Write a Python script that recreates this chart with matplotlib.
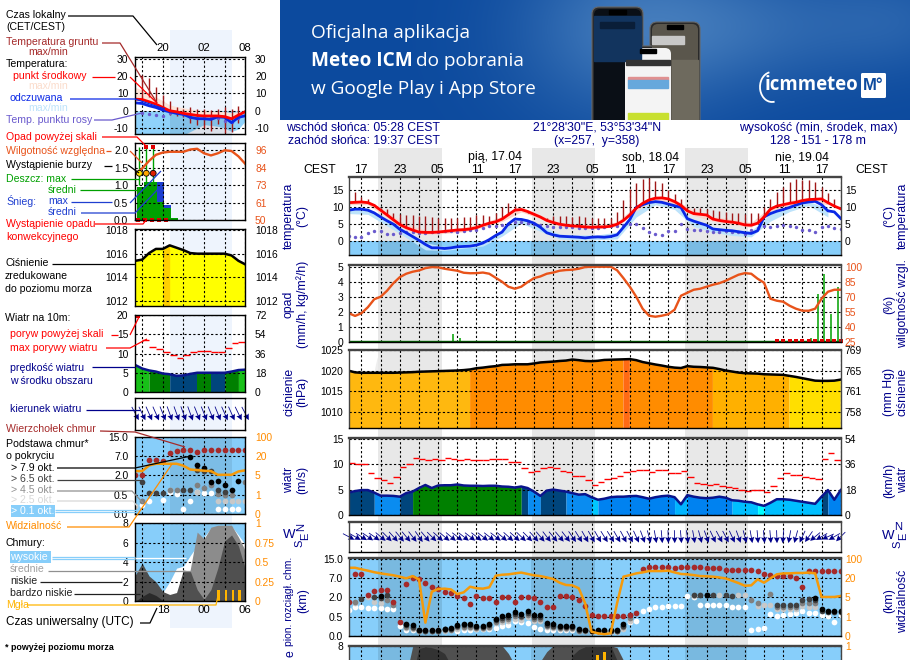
import numpy as np
import matplotlib
matplotlib.use('Agg')
import matplotlib.pyplot as plt
from matplotlib.patches import Rectangle, FancyBboxPatch, Arc

plt.rcParams['font.family'] = ['Liberation Sans', 'DejaVu Sans']
n = np.nan

# ---- main meteogram, one value per hour from 15:00 CEST on Thursday
temp = [11.2,11.3,11.4,11.2,10.4,9.0,7.6,6.2,4.8,3.9,3.2,2.6,2.5,2.5,2.6,2.8,3.0,3.2,3.3,3.5,
        3.9,4.6,5.2,5.6,6.4,7.7,9.0,9.2,8.6,7.8,7.0,6.0,5.4,4.9,4.6,4.4,4.3,4.1,4.0,4.1,
        4.1,4.3,4.9,6.0,7.6,9.6,11.0,12.0,12.5,12.6,12.3,11.5,10.4,8.8,8.0,7.8,7.6,6.4,6.0,5.7,
        5.5,5.2,4.7,4.6,5.2,7.0,9.3,10.2,10.6,11.0,11.3,11.8,12.1,12.2,12.3,11.2,10.2,9.4]
feels = [9.0,9.3,9.3,9.0,8.2,7.0,5.9,4.9,3.4,2.4,1.3,0.2,-1.0,-2.0,-2.0,-2.2,-2.0,-1.7,-1.6,-1.5,
         -1.2,-0.6,0.4,1.6,2.6,5.0,6.4,6.3,5.9,5.2,4.0,2.4,1.8,1.4,1.3,1.2,1.1,0.9,1.1,1.2,
         1.1,1.3,1.8,4.0,6.3,9.8,10.6,11.2,11.5,11.3,10.8,10.3,9.8,6.5,5.8,5.2,4.6,3.5,3.3,3.1,
         3.0,2.7,2.4,2.2,3.0,7.0,8.0,8.7,9.2,9.8,10.5,11.1,11.4,11.6,10.6,8.8,8.5,6.6]
dew = [1.5,1.1,1.3,2.3,3.0,2.8,2.1,1.9,2.3,2.6,2.5,2.3,2.3,2.5,2.6,2.8,2.8,2.7,2.9,3.1,
       3.3,3.8,4.3,4.5,4.7,5.1,5.5,5.5,5.3,5.0,4.7,4.3,4.1,4.1,4.0,4.0,3.9,3.9,3.8,3.8,
       4.1,4.3,4.5,4.8,5.1,5.0,3.8,2.5,2.1,1.8,2.8,3.0,5.1,3.6,3.3,3.1,2.8,2.6,2.6,2.8,
       2.6,2.5,2.1,3.1,3.8,4.5,4.1,4.3,4.7,4.5,4.1,3.1,3.3,2.5,4.1,4.5,3.8,3.5]
ground_max = [n,14.3,12.8,12.3,10.8,9.5,9.3,8.3,7.8,7.5,7.5,7.3,7.3,7.1,6.8,6.8,6.8,6.8,7.0,7.0,
              7.5,7.5,7.3,8.3,9.8,11.1,10.3,9.3,8.3,7.8,7.3,6.8,7.3,7.3,7.3,7.1,7.3,7.1,6.8,6.8,
              6.8,6.8,8.5,12.0,15.3,17.0,18.0,18.3,17.6,16.8,14.8,13.8,12.3,9.8,9.6,9.5,9.3,9.1,8.8,8.6,
              8.3,8.1,7.8,8.1,8.3,9.8,12.3,14.3,15.8,17.3,18.1,17.8,17.8,17.1,15.8,14.1,12.3,n]
temp_hi3 = [11.9,11.8,8.4,4.8,3.2,3.4,4.0,5.3,7.2,10.0,7.6,5.4,4.9,4.7,5.6,10.4,13.2,12.2,8.9,7.2,6.3,5.4,10.0,11.8,12.8,11.8]
temp_lo3 = [10.6,10.6,6.9,3.2,1.9,2.2,2.7,4.0,5.7,8.5,6.5,4.2,3.8,3.6,4.2,8.8,11.9,10.8,7.4,5.8,4.8,4.0,8.6,10.4,11.5,10.6]
feels_hi3 = [9.6,9.6,6.4,3.0,-0.5,-1.6,-1.0,-0.2,3.2,6.8,4.6,2.0,1.8,1.8,2.6,9.0,11.8,10.6,6.0,4.0,3.3,3.0,8.0,10.2,11.6,9.4]
feels_lo3 = [8.0,7.8,4.4,1.0,-2.6,-2.8,-2.1,-1.5,1.4,5.2,2.8,0.6,0.3,0.4,0.6,7.0,10.6,9.2,4.2,2.6,1.6,1.2,5.8,8.6,10.4,7.0]

rel_hum = [53.5,50.8,53.5,59.5,67.5,70,76,83.6,89.6,93,95,96.3,98.6,99.7,99.4,98,97,96,94,93.5,
           93.6,94.2,93,89,85,80,78,80,84.6,88.6,90.3,93,94.2,96,96.7,97,98,99.7,100,100,
           100,100,96.5,88.6,80,70,58,51,50,51,52.5,57,71,74,77,78,80,82,83.5,86,
           89,92,93.6,93,88,84,68,66,65,61,58,56,56,58,68,75,77,77]
rain_x = [16.4,17.4,72.4,73.5,74.4,75.5,76.5]
rain_amt = [0.5,0.25,0.28,3.17,4.5,1.83,3.68]
conv_hours = [67,68,69,70,71,72,73,74,75,76,77]

pressure = [1020,1019.6,1019.5,1019.5,1019.5,1019.5,1019.5,1019.5,1019.55,1019.6,1019.65,1019.75,1019.8,1019.85,1019.9,1019.95,1020,1020.05,1020.15,1020.3,
            1020.6,1020.75,1020.95,1021.1,1021.4,1021.45,1021.55,1021.55,1021.55,1021.75,1022,1022.1,1022.2,1022.35,1022.45,1022.7,1022.55,1022.35,1022.3,1022.4,
            1022.6,1022.65,1022.7,1022.75,1022.8,1022.55,1022.1,1021.8,1021.5,1021.25,1020.95,1020.75,1020.65,1021.1,1020.95,1020.9,1020.8,1020.7,1020.4,1020.05,
            1019.8,1019.55,1019.4,1019.35,1019.3,1019.15,1019.1,1019.05,1019.0,1018.75,1018.5,1018.2,1017.9,1017.6,1017.55,1017.55,1017.6,1017.85]
press_from = [0,19,43,44,57,69]
press_to = [19,43,44,57,69,77]
press_col = ['#FFB80F','#FF8C00','#FF6A14','#FF8C00','#FFB000','#FFDF00']

wind = [4.4,4.7,4.9,4.9,4.4,3.8,3.8,3.75,3.6,4.3,4.6,5.3,5.9,5.3,5.8,5.85,5.85,6.0,5.8,5.75,
        5.75,5.7,5.75,5.75,5.6,5.55,5.4,5.6,5.3,4.6,3.75,4.8,5.0,4.8,4.6,4.3,4.0,4.1,3.5,3.0,
        3.2,3.5,3.6,3.6,3.7,3.75,3.5,3.2,3.5,3.7,3.8,3.5,2.1,3.9,3.6,3.4,3.3,3.4,3.6,3.4,
        2.9,2.8,2.6,2.5,2.1,1.8,2.4,3.1,3.1,3.0,2.8,2.6,2.4,2.2,3.6,4.9,3.0,4.9]
gust = [10.2,10,10,8.2,7.2,6.8,6.2,7.5,9.5,10,11.2,11.1,10.9,11,10.9,11.2,11,10.9,11,10.8,
        10.8,10.8,11,11,11,10.5,10.4,9.3,8.4,8.7,9.2,9.5,9.3,8.7,8.5,7.7,7.7,6.8,5.9,6.4,
        7,7.2,7.7,8.4,8.7,8.8,8.8,8.4,8.8,8.8,8.2,8.2,8.6,7.5,6.2,6,5.9,6,5.8,5.6,
        5.3,5,4.7,4.9,4.9,4.5,5.7,7.3,8.2,7.8,7.8,7.5,7.3,7,11,12.2,10.9,10.2]
wind_from = [0,4,8,10,27,28,30,34,38,39,51,53,60,64,65,74,75]
wind_to = [4,8,10,27,28,30,34,38,39,51,53,60,64,65,74,75,77]
wind_col = ['#00457C','#0A8CF0','#00457C','#008000','#00457C','#0A8CF0','#00457C','#0A8CF0','#00C8FF','#0082F0','#00B4FF','#0082F0','#00BFFF','#00FFFF','#00BFFF','#00457C','#0082F0']
wind_dir = [28,30,32,35,35,40,45,48,50,50,52,55,50,45,42,40,40,38,38,38,38,38,38,38,40,42,42,44,45,48,50,52,50,50,52,55,58,60,60,60,
            58,58,60,62,62,65,70,75,80,85,88,88,85,82,80,75,70,65,62,62,65,70,75,80,85,85,85,88,95,100,105,115,125,140,150,155,150,135]

# cloud levels are read in axis steps: 0=0 km, 1=0.5 km, 2=2 km, 3=7 km, 4=15 km
cloud_top = [1.78,3.2,3.2,2.12,2.33,2.38,2.38,1.74,0.74,2.67,3.02,2.95,2.72,2.52,2.43,2.29,2.24,2.07,1.95,1.67,
             2.07,1.97,1.97,1.76,2.03,2.03,1.74,2.03,2.03,1.95,1.76,1.5,1.5,2.05,2.05,2.03,1.84,1.57,1.09,1.03,
             1.05,1.03,1.02,1.02,1.09,1.17,3.48,3.57,3.57,3.57,3.57,3.5,3.57,3.57,3.57,3.57,3.5,3.5,3.5,3.43,
             3.43,3.43,3.43,3.43,3.36,3.2,3.17,3.1,3.1,3.1,3.0,2.52,3.38,3.38,3.38,3.38,3.38,3.38]
base_black = [n,n,n,n,n,2.07,n,n,n,.62,.55,.33,.31,.31,.31,.38,.4,.57,.62,.62,
              .53,.53,.62,.9,1.03,1.07,1.22,1.14,1.29,1.07,1.07,.65,.6,.53,.53,.53,.34,.31,.28,.29,
              .3,.3,.3,.62,n,n,n,n,n,n,n,n,n,n,n,n,2.12,n,n,n,
              n,n,n,n,n,n,n,n,n,n,n,n,n,1.95,1.38,1.31,1.31,1.31]
base_dark = [n,n,1.9,n,2.03,1.95,2.12,n,n,.55,.48,.3,.28,.28,.28,.34,.36,.5,.55,.55,
             .47,.47,.55,.82,.95,.98,1.14,1.05,1.2,.98,.98,.58,.53,.47,.47,.47,.31,.29,.26,.27,
             .27,.27,.27,.52,1.08,n,n,n,n,n,n,n,n,n,2.1,2.12,2.1,2.1,n,2.1,
             2.08,n,n,n,n,n,n,1.6,1.6,1.6,1.6,1.85,1.9,1.85,1.3,1.25,1.25,1.25]
base_mid = [n,1.75,n,n,n,n,1.85,1.6,n,.47,.42,.28,.26,.26,.26,.3,.32,.44,.48,.48,
            .42,.42,.48,.74,.85,.88,1.03,.96,1.08,.88,.88,.5,.46,.41,.41,.41,.28,.27,.24,.25,
            .25,.25,.25,.44,.95,n,n,n,n,n,n,n,n,n,n,n,n,n,n,n,
            n,n,n,1.86,1.69,n,2.15,1.5,1.5,1.5,1.5,1.7,1.7,1.7,n,n,n,n]
base_light = [n,1.7,n,2.0,1.75,1.7,n,n,n,.4,.37,.26,.24,.24,.24,.27,.29,.37,.42,.42,
              .37,.37,.42,.66,.75,.78,.9,.85,.96,.78,.78,.44,.4,.36,.36,.36,.26,.25,.22,.23,
              .23,.23,.23,.38,.8,n,n,n,n,n,n,n,n,n,2.05,n,n,n,2.12,n,
              n,2.12,2.12,n,1.55,1.6,1.6,1.4,1.4,1.4,1.4,1.55,1.5,1.5,n,n,n,n]
base_white = [1.34,1.52,1.52,1.43,1.43,1.43,1.38,1.38,.52,.3,.3,.3,.3,.3,.3,.3,.3,.28,.3,.3,
              .34,.34,.35,.4,.52,.57,.79,.74,.65,.45,.34,.31,.31,.3,.3,.3,.3,.29,.28,.28,
              .28,.28,.28,.4,.7,.79,1.3,1.38,1.48,1.52,1.53,1.53,1.53,2.05,2.0,1.6,1.6,1.6,1.6,1.6,
              1.5,1.5,1.5,.3,.38,.4,1.14,1.03,1.1,1.15,1.2,1.3,1.2,1.2,1.1,1.03,.74,1.08]
visibility = [3.53,3.53,3.45,3.38,3.3,3.24,3.19,3.14,3.07,2.98,3.1,2.93,0.69,2.29,2.43,2.45,2.41,2.17,2.26,2.55,
              2.47,2.45,2.52,3.12,3.17,3.19,3.24,3.28,3.21,3.14,3.1,3.03,2.95,2.76,2.64,2.62,2.47,1.69,.22,.14,
              .09,.14,1.69,3.07,3.15,3.24,3.29,3.36,3.36,3.36,3.38,3.29,3.21,3.19,3.15,3.1,3.09,3.07,3.03,2.98,
              2.86,2.74,2.6,2.62,2.93,2.76,2.98,3.19,3.24,3.24,3.26,3.26,3.28,3.24,2.02,2.02,2.02,2.07]

low_cover = [0,0,0,0,0,0,0,0,0,5,7.9,8,8,8,8,8,8,8,8,8,8,8,8,8,8,7.2,6,4,2,4,6.4,7.4,8,8,8,8,8,8,8,8,8,8,7.8,6.5,3,0]
vlow_cover = [0,0,0,0,0,0,0,0,0,0,5,7.7,7.9,7.8,7.6,7.2,6,3,0,0,0,0,0,0,0,0,0,0,0,0,0,0,0,0,5,7,7.6,7.9,8,8,8,8,6.5,4,0,0]
fog_x = [38.4,39,40,41.4]
fog_amt = [6.2,7.0,7.35,6.2]

# ---- left legend meteogram, hourly from 16:00 to 08:00
leg_hours = np.arange(16, 33)
leg_temp = [6.7,6.5,5.2,3.8,1.9,0,-0.6,-1.5,-2.1,-2.7,-3,-3,-3,-3.4,-4.6,-2.5,-0.5]
leg_feels = [4.6,4.2,2.9,1.9,0.4,-0.6,-1.5,-2.1,-3.8,-4.6,-4.6,-5,-3.5,-3.8,-6.9,-3.8,-2.9]
leg_temp_hi = [13.5,12,10,8,5.8,3.4,2.4,1.8,1,0.6,0.2,0,-0.2,-0.5,-1,-0.5,0]
leg_env = [-14,-14,-14,-14,-14,-14,-14,-14,-12,-10,-8,-8.5,-9,-10,-12,-10.5,-6]
leg_dew_h = [17,18,19,20,21,22,23,24,25,26,27,28,29,30,31]
leg_dew = [-1.5,-1.9,-2.5,-2.9,-1.2,-1.5,-2.1,-3.8,-4.4,-4.4,-3.5,-4.4,-5.8,-6.4,-4.4]
leg_gr_h = [17,18,19,20,21,22,23,24,25,26,27,28,29,30,31]
leg_gr_hi = [20.6,18.7,13.5,9.1,5.6,2.3,1.3,2.3,1.3,0.8,0.4,1.3,2.3,1.3,2.7]
leg_gr_lo = [7.3,8.1,4.2,2,-2.5,-3,-3.5,-7.3,-8.2,-10.2,-11.5,-7.7,-13,-12.5,-7.3]

leg_rh = [80,84,89,93,94.5,95,95,95,96.5,97,94,92.6,94,96,95.5,92,87]
leg_bin = [16.2,17.2,18.2,19.2,20.2,21.2]
leg_rain = [.94,1.1,1.1,.53,.33,.07]
leg_snow = [.94,1.1,1.1,1.1,.43,.07]
leg_storm_h = [16.6,17.6,18.6]
leg_storm_col = ['#FFE000','#FFA500','#E02000']

leg_press = [1015.4,1015.5,1016.05,1016.4,1016.4,1016.7,1016.5,1016.3,1016.05,1016,1016,1016,1016,1016,1015.85,1015.4,1015.1]
leg_wind = [7,6.1,5.6,5.3,4.8,4.6,4.2,4.3,4.7,5,5,5,5,5,5.3,5.7,5.8]
leg_gust = [n,13.4,11.6,11.2,10.5,9.6,8.8,9.7,10.4,10.7,10.7,10.4,10.4,11.5,12.7,13]
leg_wind_from = [16,18,21,25,27,29,31]
leg_wind_to = [18,21,25,27,29,31,32]
leg_wind_col = ['#18C018','#008000','#00457C','#008000','#00457C','#008000','#18C018']
leg_dir = [62,64,66,66,68,70,70,70,70,68,68,68,68,66,66,64,62]

leg_top = [2,2,2.82,2.82,2.73,3.18,3.28,3.32,3.32,3.2,3.32,3.32,3.32,3.32,3.32,3.32,3.32]
leg_black = [n,n,n,n,n,n,n,n,2.97,2.55,2.39,1.66,1.69,1.49,1.23,1.69,n]
leg_dark = [n,1.66,1.1,1.1,1.1,n,n,1.26,1.26,2.3,2.2,2.25,1.26,1.15,n,n,n]
leg_mid = [n,.68,n,n,n,1.26,1.26,n,n,1.49,1.37,1.49,1.06,.97,.97,n,1.66]
leg_light = [.41,n,n,n,n,1.23,n,n,n,1.15,n,n,.68,.68,.68,.68,.68]
leg_white = [n,.46,.68,n,.75,1.15,1.06,.24,.68,1.15,1.11,1.11,.24,.24,.24,.24,n]
leg_vis = [2.22,2.22,2.51,2.6,2.6,2.6,2.6,2.5,2.3,2.27,2.24,2.22,2.03,2.03,2.03,2.2,2.26]

leg_high = [0,0,0,0,.9,2,3.4,3.6,4.7,5.7,6.6,7.5,7.7,7.7,7.7,6.8,5.8]
leg_medium = [0,0,0,0,0,0,0,0,3.3,7.1,6.4,7.6,7.8,7.8,7.8,6.6,5.2]
leg_low = [2.7,3.9,2.6,2,1,.7,.9,3.2,3.1,1.2,.2,1.2,3.4,6.2,6.8,5.7,3.3]
leg_vlow = [0,.5,.9,.6,.1,0,0,0,0,0,0,0,0,0,0,0,0]
leg_fog_h = [28.1,29.2,30.2,31.2]
leg_fog = [1.15,1.15,1.15,1.15]

W, H = 910, 660
fig = plt.figure(figsize=(9.1, 6.6), dpi=100, facecolor='white')
LBL = 8.8
LEG = 7.6
TICK = 7.4
NAVY = '#00008B'
SKY = '#87CEFA'
ORG = '#FF8C00'
RHC = '#E8531A'


def px_axes(x0, y0, x1, y1, z=5):
    ax = fig.add_axes([x0 / W, 1 - y1 / H, (x1 - x0) / W, (y1 - y0) / H], zorder=z)
    ax.patch.set_alpha(0)
    return ax


def setup(ax, xlim, xgrid, ylim, yt, ylab, rt=None, rlab=None, rcol='black', lpad=4, rpad=3, lw=1.0, main=True):
    ax.set_xlim(*xlim)
    ax.set_ylim(*ylim)
    ax.set_xticks(xgrid)
    ax.set_xticklabels([])
    ax.set_yticks(yt)
    ax.set_yticklabels(ylab, fontsize=TICK)
    ax.tick_params(length=0, pad=lpad)
    ax.grid(True, color='black', lw=0.8, ls=(0, (2, 2)), zorder=2.5)
    ax.set_axisbelow(False)
    for s in ax.spines.values():
        s.set_linewidth(lw)
        s.set_zorder(6)
    if main:
        ax.spines['top'].set_linewidth(1.7)
        ax.spines['top'].set_color('#444444')
        ax.spines['left'].set_color('#444444')
        ax.spines['right'].set_color('#444444')
    if rt is not None:
        tw = ax.twinx()
        tw.set_ylim(*ylim)
        tw.set_yticks(rt)
        tw.set_yticklabels(rlab, fontsize=TICK, color=rcol)
        tw.tick_params(length=0, pad=rpad)
        for s in tw.spines.values():
            s.set_visible(False)


def seg_fill(ax, x, y, froms, tos, cols):
    x = np.asarray(x)
    y = np.asarray(y)
    for a, b, c in zip(froms, tos, cols):
        m = (x >= a) & (x <= b)
        ax.fill_between(x[m], 0, y[m], color=c, lw=0, zorder=1)


def dots(ax, x, y, c, s):
    ax.scatter(x, y, s=s, c=c, lw=0, zorder=3)


def arrows(ax, x, y0, deg, length, width):
    a = np.radians(deg)
    ax.quiver(x, np.full(len(x), y0), length * np.cos(a), -length * np.sin(a), angles='uv', pivot='mid',
              units='dots', scale_units='dots', scale=1, width=width, headwidth=7.5, headlength=7.5,
              headaxislength=6.5, color='#00008B', clip_on=False, zorder=4)


# ---- background: night bands, faint watermark and banner
bg = fig.add_axes([0, 0, 1, 1], zorder=0)
bg.set_xlim(0, W)
bg.set_ylim(H, 0)
bg.axis('off')
bg.add_patch(Rectangle((170, 30), 62, 598, color='#EEF4FD', lw=0))
nights_px = [(378, 442), (532, 595), (685, 748)]
for a, b in nights_px:
    bg.add_patch(Rectangle((a, 148), b - a, 520, color='#E8E8E8', lw=0))
bg.add_patch(Arc((455, 392), 150, 190, theta1=110, theta2=250, color='#EEEEEE', lw=10, zorder=0.5))

gx, gy = np.meshgrid(np.arange(630), np.arange(120))
shade = (0.75 * np.exp(-((gx - 345) / 110.0) ** 2 - ((gy - 30) / 90.0) ** 2)
         + 0.55 * np.exp(-((gx - 470) / 130.0) ** 2 - ((gy - 25) / 60.0) ** 2)
         + 0.35 * np.exp(-((gx - 620) / 80.0) ** 2 - ((gy - 20) / 50.0) ** 2))
c0 = np.array([0x0C, 0x4A, 0x9E]) / 255
c1 = np.array([0x44, 0x7C, 0xBC]) / 255
img = c0 + np.clip(shade, 0, 1)[..., None] * (c1 - c0)
bg.imshow(img, extent=(280, 910, 120, 0), aspect='auto', zorder=1)
bg.set_xlim(0, W)
bg.set_ylim(H, 0)


def phone(x0, y0, x1, scr):
    bg.add_patch(FancyBboxPatch((x0, y0 + 4), x1 - x0, 130, boxstyle='round,pad=0,rounding_size=7', fc='#2A2A2A', ec='#666666', lw=0.8, zorder=2))
    bg.add_patch(FancyBboxPatch((x0 + 2, y0 + 6), x1 - x0 - 4, 130, boxstyle='round,pad=0,rounding_size=6', fc=scr, ec='none', zorder=3))
    bg.add_patch(Rectangle((x0 + 17, y0 + 7), x1 - x0 - 34, 4, color='black', zorder=4))


clip_box = Rectangle((280, 0), 630, 120, transform=bg.transData)
before = len(bg.patches)
phone(592, 3, 643, '#0A0F16')
bg.add_patch(Rectangle((594, 16), 47, 45, color='#12345E', zorder=3.5))
bg.add_patch(Rectangle((600, 22), 34, 6, color='#0A1E38', zorder=4))
phone(650, 18, 700, '#5A564C')
bg.add_patch(Rectangle((652, 36), 32, 8, color='#C8C8C8', zorder=4))
bg.add_patch(Rectangle((672, 60), 26, 60, color='#6E6A5E', zorder=3.5))
phone(623, 42, 673, '#F4F4F4')
bg.add_patch(Rectangle((626, 60), 44, 5, color='#333333', zorder=5))
bg.add_patch(Rectangle((628, 77), 40, 3, color='#E09090', zorder=5))
bg.add_patch(Rectangle((628, 80), 40, 8, color='#66A8DC', zorder=5))
bg.add_patch(Rectangle((628, 113), 40, 7, color='#C8E030', zorder=5))
for p in bg.patches[before:]:
    p.set_clip_path(clip_box)
bg.add_patch(FancyBboxPatch((861, 73), 25, 25, boxstyle='round,pad=0,rounding_size=1.5', fc='white', ec='none', zorder=3))
bg.add_patch(Arc((772, 87), 24, 30, theta1=80, theta2=260, color='white', lw=1.3, zorder=3))

# ---- main panels
mt = np.arange(len(temp))
m3 = mt[::3]
mx = (0, 77)
mgrid = np.arange(2, 78, 3)
ML, MR = 348.7, 840.7
mn = dict(lpad=4)
shade_t = [(4.6, 14.6), (28.6, 38.5), (52.6, 62.3)]

ax = px_axes(ML, 177, MR, 255)
setup(ax, mx, mgrid, (-4.1, 18.7), [0, 5, 10, 15], ['0', '5', '10', '15'], [0, 5, 10, 15], ['0', '5', '10', '15'], **mn)
ax.axhspan(-4.1, 0, color=SKY, lw=0, zorder=1)
for a, b in shade_t:
    ax.fill_between([a, b], -4.1, 0, color='black', alpha=0.09, lw=0, zorder=1.1)
ax.fill_between(m3, feels_lo3, feels_hi3, color='#BDE3FB', lw=0, zorder=1.5)
ax.fill_between(m3, temp_lo3, temp_hi3, color='#FBD5CC', lw=0, zorder=1.6)
ax.vlines(mt, temp, ground_max, color='#A01818', lw=1, zorder=3)
dots(ax, mt, dew, '#6A5ACD', 6)
ax.plot(mt, feels, color='#0A28E6', lw=2.0, zorder=4)
ax.plot(mt, temp, color='#FF0000', lw=2.0, zorder=4.5)

ax = px_axes(ML, 264.5, MR, 341.7)
rh_to_rain = lambda v: (np.asarray(v) - 25) / 15.0
setup(ax, mx, mgrid, (0, 5.15), [0, 1, 2, 3, 4, 5], ['0', '1', '2', '3', '4', '5'],
      [0, 1, 2, 3, 4, 5], ['25', '40', '55', '70', '85', '100'], RHC, **mn)
ax.vlines(rain_x, 0, rain_amt, color='#00A000', lw=1.1, zorder=3)
ax.plot(mt, rh_to_rain(rel_hum), color=RHC, lw=1.7, zorder=4)
ax.axhline(0.02, color='#006000', lw=1.0, zorder=4)
ax.scatter(conv_hours, [0.03] * len(conv_hours), marker='s', s=6, c='#E00000', lw=0, zorder=5, clip_on=False)

ax = px_axes(ML, 350, MR, 428.3)
setup(ax, mx, mgrid, (1006.1, 1025), [1010, 1015, 1020, 1025], ['1010', '1015', '1020', '1025'],
      [1010, 1015, 1020, 1025], ['758', '761', '765', '769'], **mn)
seg_fill(ax, mt, pressure, press_from, press_to, press_col)
ax.plot(mt, pressure, color='black', lw=1.8, zorder=4)

ax = px_axes(ML, 437.7, MR, 515)
setup(ax, mx, mgrid, (0, 15.2), [0, 5, 10, 15], ['0', '5', '10', '15'], [0, 5, 10, 15], ['0', '18', '36', '54'], **mn)
seg_fill(ax, mt, wind, wind_from, wind_to, wind_col)
ax.plot(mt, wind, color='#0A148C', lw=1.8, zorder=4)
ax.hlines(gust, mt, mt + 1, color='#FF0000', lw=1, zorder=4)

ax = px_axes(ML, 521.7, MR, 551.7)
setup(ax, mx, mgrid, (0, 1), [], [], **mn)
ax.grid(True, axis='x', color='black', lw=0.8, ls=(0, (2, 2)))
arrows(ax, mt, 0.5, wind_dir, 13, 0.8)

ax = px_axes(ML, 558.3, MR, 636)
setup(ax, mx, mgrid, (0, 4.02), [0, 1, 2, 3, 4], ['0.0', '0.5', '2.0', '7.0', '15.0'],
      [0, 1, 2, 3, 4], ['0', '1', '5', '20', '100'], ORG, **mn)
ax.set_facecolor(SKY)
ax.patch.set_alpha(1)
for a, b in shade_t:
    ax.axvspan(a, b, color='black', alpha=0.1, lw=0, zorder=1)
for arr, c in [(base_white, 'white'), (base_light, '#C8C8C8'), (base_mid, '#808080'), (base_dark, '#404040'), (base_black, 'black'), (cloud_top, '#A52A2A')]:
    dots(ax, mt, arr, c, 17)
ax.plot(mt, visibility, color='#F59A0A', lw=1.8, zorder=4)

ax = px_axes(ML, 645.7, MR, 724)
setup(ax, mx, mgrid, (0, 8), [8], ['8'], [8], ['1'], ORG, **mn)
ax.set_facecolor(SKY)
ax.patch.set_alpha(1)
for a, b in shade_t:
    ax.axvspan(a, b, color='black', alpha=0.1, lw=0, zorder=1)
ax.fill_between(np.arange(len(low_cover)), 0, low_cover, color='#505050', lw=0, zorder=1.5)
ax.fill_between(np.arange(len(vlow_cover)), 0, vlow_cover, color='#333333', lw=0, zorder=1.6)
ax.bar(fog_x, fog_amt, width=0.5, color='#FFB400', zorder=3)

# ---- left panels
LL, LR = 135.3, 245.3
lx = (16, 32)
lgrid = [17, 20, 23, 26, 29, 32]
tks = dict(lpad=5, rpad=7, lw=1.0, main=False)
night = (21.05, 30)

ax = px_axes(LL, 57.3, LR, 134.3)
setup(ax, lx, lgrid, (-13.6, 30.9), [-10, 0, 10, 20, 30], ['-10', '0', '10', '20', '30'],
      [-10, 0, 10, 20, 30], ['-10', '0', '10', '20', '30'], **tks)
ax.fill_between(leg_hours, leg_env, 0, color='#8FD2FB', lw=0, zorder=1)
ax.fill_between(night, -13.6, 0, color='black', alpha=0.08, lw=0, zorder=1.1)
ax.fill_between(leg_hours, leg_temp, leg_temp_hi, color='#FCE3D8', lw=0, zorder=1.5)
ax.vlines(leg_gr_h, leg_gr_lo, leg_gr_hi, color='#A01818', lw=1, zorder=3)
dots(ax, leg_dew_h, leg_dew, '#6A5ACD', 6)
ax.plot(leg_hours, leg_feels, color='#0A28E6', lw=2.0, zorder=4)
ax.plot(leg_hours, leg_temp, color='#FF0000', lw=2.0, zorder=4.5)

ax = px_axes(LL, 143.3, LR, 220)
rh_left = lambda v: (np.asarray(v) - 50) / 23.0
setup(ax, lx, lgrid, (0, 2.2), [0, .5, 1, 1.5, 2], ['0.0', '0.5', '1.0', '1.5', '2.0'],
      [0, .5, 1, 1.5, 2], ['50', '61', '73', '84', '96'], RHC, **tks)
ax.bar(leg_bin, leg_snow, width=1.02, align='edge', color='#1F3FD0', zorder=1.2)
ax.bar(leg_bin, leg_rain, width=1.02, align='edge', color='#00A000', zorder=1.4)
ax.vlines(leg_storm_h, 1.0, 2.1, color='#00A000', lw=1, zorder=3)
ax.scatter(leg_storm_h, [1.34] * 3, s=18, c=leg_storm_col, edgecolors='black', lw=0.6, zorder=5)
ax.scatter(leg_storm_h[1:], [2.1, 2.1], s=8, marker='s', c='#E00000', lw=0, zorder=5)
ax.plot(leg_hours, rh_left(leg_rh), color=RHC, lw=1.7, zorder=4)
ax.scatter(leg_hours[:5] + 0.4, [0.01] * 5, s=5, marker='s', c='#E00000', lw=0, zorder=5, clip_on=False)

ax = px_axes(LL, 229.3, LR, 306)
setup(ax, lx, lgrid, (1011.6, 1018.05), [1012, 1014, 1016, 1018], ['1012', '1014', '1016', '1018'],
      [1012, 1014, 1016, 1018], ['1012', '1014', '1016', '1018'], **tks)
ax.fill_between(leg_hours, 1011, leg_press, color='#FFFF00', lw=0, zorder=1)
hm = (leg_hours >= 20) & (leg_hours <= 21)
ax.fill_between(leg_hours[hm], 1011, np.asarray(leg_press)[hm], color='#FFD000', lw=0, zorder=1.2)
ax.plot(leg_hours, leg_press, color='black', lw=1.8, zorder=4)

ax = px_axes(LL, 315, LR, 392)
setup(ax, lx, lgrid, (0, 20), [0, 5, 10, 15, 20], ['0', '5', '10', '15', '20'],
      [0, 5, 10, 15, 20], ['0', '18', '36', '54', '72'], **tks)
seg_fill(ax, leg_hours, leg_wind, leg_wind_from, leg_wind_to, leg_wind_col)
ax.plot(leg_hours, leg_wind, color='#0A148C', lw=1.8, zorder=4)
ax.hlines(leg_gust, leg_hours[:-1], leg_hours[1:], color='#FF0000', lw=1, zorder=4)
ax.scatter([16.4], [19.7], s=8, marker='s', c='#E00000', lw=0, zorder=5)

ax = px_axes(LL, 398.3, LR, 430)
setup(ax, lx, lgrid, (0, 1), [], [], **tks)
arrows(ax, leg_hours, 0.52, leg_dir, 15, 0.8)

ax = px_axes(LL, 436.7, LR, 514)
setup(ax, lx, lgrid, (0, 3.98), [0, 1, 2, 3, 4], ['0.0', '0.5', '2.0', '7.0', '15.0'],
      [0, 1, 2, 3, 4], ['0', '1', '5', '20', '100'], ORG, **tks)
ax.set_facecolor(SKY)
ax.patch.set_alpha(1)
ax.axvspan(*night, color='black', alpha=0.08, lw=0, zorder=1)
for arr, c in [(leg_white, 'white'), (leg_light, '#C8C8C8'), (leg_mid, '#808080'), (leg_dark, '#404040'), (leg_black, 'black'), (leg_top, '#A52A2A')]:
    dots(ax, leg_hours, arr, c, 17)
ax.plot(leg_hours, leg_vis, color='#F59A0A', lw=1.8, zorder=4)

ax = px_axes(LL, 523.3, LR, 601.3)
setup(ax, lx, lgrid, (0, 8), [0, 2, 4, 6, 8], ['0', '2', '4', '6', '8'],
      [0, 2, 4, 6, 8], ['0', '0.25', '0.5', '0.75', '1'], ORG, **tks)
ax.set_facecolor(SKY)
ax.patch.set_alpha(1)
ax.axvspan(*night, color='black', alpha=0.04, lw=0, zorder=1)
ax.fill_between(leg_hours, 0, leg_high, color='white', lw=0, zorder=1.2)
ax.fill_between(leg_hours, 0, leg_medium, color='#8C8C8C', lw=0, zorder=1.4)
ax.fill_between(leg_hours, 0, leg_low, color='#505050', lw=0, zorder=1.6)
ax.fill_between(leg_hours, 0, leg_vlow, color='#2A2A2A', lw=0, zorder=1.8)
ax.bar(leg_fog_h, leg_fog, width=0.4, color='#FFB400', zorder=3)

# ---- everything in page pixels: labels and leader lines
ov = fig.add_axes([0, 0, 1, 1], zorder=20)
ov.set_xlim(0, W)
ov.set_ylim(H, 0)
ov.axis('off')


def t(x, y, s, c='black', ha='left', fs=LBL, **kw):
    ov.text(x, y, s, color=c, ha=ha, va='center', fontsize=fs, **kw)


left_labels = [
    (6, 15, 'Czas lokalny', 'black'), (6, 27, '(CET/CEST)', 'black'),
    (6, 42, 'Temperatura gruntu', '#A52A2A'), (28, 52, 'max/min', '#A52A2A'),
    (6, 64, 'Temperatura:', 'black'), (13, 76, 'punkt środkowy', '#FF0000'),
    (28, 86, 'max/min', '#FBDCCB'), (10, 98, 'odczuwana', '#0A28E6'), (28, 108, 'max/min', '#BDE3FB'),
    (6, 120, 'Temp. punktu rosy', '#6A5ACD'),
    (6, 137, 'Opad powyżej skali', '#FF0000'), (6, 151, 'Wilgotność względna', RHC),
    (6, 165, 'Wystąpienie burzy', 'black'), (6, 179, 'Deszcz: max', '#00A000'), (48, 190, 'średni', '#00A000'),
    (6, 201, 'Śnieg:', '#1F3FD0'), (48, 201, 'max', '#1F3FD0'), (48, 212, 'średni', '#1F3FD0'),
    (6, 224, 'Wystąpienie opadu', '#FF0000'), (6, 237, 'konwekcyjnego', '#FF0000'),
    (5, 263, 'Ciśnienie', 'black'), (5, 276, 'zredukowane', 'black'), (5, 289, 'do poziomu morza', 'black'),
    (5, 318, 'Wiatr na 10m:', 'black'),
    (10, 334, 'poryw powyżej skali', '#FF0000'), (10, 348, 'max porywy wiatru', '#FF0000'),
    (10, 368, 'prędkość wiatru', '#00008B'), (10, 381, 'w środku obszaru', '#00008B'),
    (10, 409, 'kierunek wiatru', '#00008B'), (6, 429, 'Wierzchołek chmur', '#A52A2A'),
    (6, 444, 'Podstawa chmur*', 'black'), (6, 456, 'o pokryciu', 'black'),
    (11, 468, '> 7.9 okt.', 'black'), (11, 479, '> 6.5 okt.', '#404040'), (11, 490, '> 4.5 okt.', '#909090'),
    (11, 500, '> 2.5 okt.', '#D8D8D8'),
    (6, 526, 'Widzialność', ORG), (6, 543, 'Chmury:', 'black'),
    (10, 569, 'średnie', '#A0A0A0'), (10, 581, 'niskie', '#202020'), (10, 593, 'bardzo niskie', '#202020'),
    (6, 605, 'Mgła', '#FFB400'),
]
for x, y, s, c in left_labels:
    t(x, y, s, c, fs=LEG)
t(6, 622, 'Czas uniwersalny (UTC)', fs=8.5)
t(5, 648, '* powyżej poziomu morza', fs=6.4, fontweight='bold')
ov.add_patch(Rectangle((11, 505), 44, 12, color=SKY, lw=0))
t(11, 511, '> 0.1 okt.', 'white', fs=LEG)
ov.add_patch(Rectangle((10, 551), 41, 12, color=SKY, lw=0))
t(10, 557, 'wysokie', 'white', fs=LEG)

for x, s in zip([163, 204, 245], ['20', '02', '08']):
    t(x, 48, s, ha='center', fs=8.2)
for x, s in zip([163, 204, 245], ['18', '00', '06']):
    t(x, 610, s, ha='center', fs=8.2)

leaders = [
    ('black', [(68, 16), (133, 16), (157, 45)]),
    ('#A52A2A', [(102, 43), (120, 43), (157, 103)]),
    ('#FF0000', [(92, 77), (115, 77)]), ('#FF0000', [(130, 77), (157, 103)]),
    ('#0A28E6', [(70, 99), (135, 99), (165, 109)]),
    ('#6A5ACD', [(94, 120), (112, 120), (142, 113)]),
    ('#FF0000', [(102, 137), (137, 137), (146, 146)]),
    (RHC, [(106, 151), (111, 151)]), (RHC, [(130, 151), (142, 163)]),
    ('black', [(104, 166), (112, 166)]), ('black', [(128, 165), (139, 173)]),
    ('#00A000', [(71, 179), (139, 179)]), ('#00A000', [(80, 190), (145, 190)]),
    ('#1F3FD0', [(71, 202), (112, 202)]), ('#1F3FD0', [(130, 203), (161, 171)]),
    ('#1F3FD0', [(81, 213), (135, 213), (160, 187)]),
    ('#FF0000', [(95, 224), (143, 224), (147, 219)]),
    ('black', [(52, 264), (135, 264)]),
    ('#FF0000', [(111, 335), (118, 335)]), ('#FF0000', [(130, 335), (139, 317)]),
    ('#FF0000', [(106, 348), (130, 348), (147, 339)]),
    ('#00008B', [(92, 367), (135, 367)]), ('#00008B', [(86, 410), (140, 410)]),
    ('#A52A2A', [(100, 431), (135, 432), (185, 447)]),
    ('black', [(57, 468), (135, 468), (191, 456)]),
    ('#404040', [(57, 480), (143, 480)]),
    ('#909090', [(57, 491), (132, 491), (143, 503)]),
    ('#D8D8D8', [(57, 501), (133, 501), (137, 506)]),
    (SKY, [(55, 510), (137, 510)]), (SKY, [(55, 512), (137, 512)]),
    (ORG, [(67, 527), (129, 527), (172, 464)]),
    (SKY, [(52, 557), (135, 557)]), (SKY, [(52, 559), (135, 559)]), ('white', [(135, 558), (186, 558)]),
    ('#909090', [(48, 571), (192, 571)]),
    ('#202020', [(40, 582), (122, 582)]), ('#202020', [(74, 594), (140, 594)]),
    ('#FFB400', [(27, 605), (216, 605), (219, 591)]),
    ('black', [(140, 623), (150, 623), (157, 608)]),
]
for c, pts in leaders:
    ov.plot([p[0] for p in pts], [p[1] for p in pts], color=c, lw=0.9, solid_capstyle='butt')

BAN = 13.7
ov.text(311, 33, 'Oficjalna aplikacja', color='white', fontsize=BAN, family='Open Sans', va='center')
ov.text(311, 61, 'Meteo ICM', color='white', fontsize=BAN, family='Open Sans', fontweight='bold', va='center')
ov.text(416, 61, 'do pobrania', color='white', fontsize=BAN, family='Open Sans', va='center')
ov.text(311, 89, 'w Google Play i App Store', color='white', fontsize=BAN, family='Open Sans', va='center')
ov.text(765, 85, 'icmmeteo', color='white', fontsize=13.4, family='Open Sans', fontweight='bold', va='center')
ov.text(873, 86, 'M°', color='#0C4A9E', fontsize=12, fontweight='bold', va='center', ha='center')

t(286, 128, 'wschód słońca: 05:28 CEST', NAVY)
t(288, 141, 'zachód słońca: 19:37 CEST', NAVY)
t(597, 128, '21°28\'30"E, 53°53\'34"N', NAVY, ha='center')
t(597, 141, '(x=257,  y=358)', NAVY, ha='center')
t(818, 128, 'wysokość (min, środek, max)', NAVY, ha='center')
t(818, 141, '128 - 151 - 178 m', NAVY, ha='center')

for x, s in zip([495, 650, 802], ['pią, 17.04', 'sob, 18.04', 'nie, 19.04']):
    t(x, 157, s, ha='center')
hour_px = [361, 400, 437, 477, 515, 553, 592, 630, 669, 707, 745, 784, 822]
hour_lb = ['17', '23', '05', '11', '17', '23', '05', '11', '17', '23', '05', '11', '17']
for x, s in zip(hour_px, hour_lb):
    t(x, 170, s, ha='center')
t(320, 170, 'CEST', ha='center')
t(872, 170, 'CEST', ha='center')

side_labels = [
    (216, 'temperatura\n(°C)', '(°C)\ntemperatura'),
    (304, 'opad\n(mm/h, kg/m²/h)', '(%)\nwilgotność wzgl.'),
    (392, 'ciśnienie\n(hPa)', '(mm Hg)\nciśnienie'),
    (480, 'wiatr\n(m/s)', '(km/h)\nwiatr'),
]
for y, s, rs in side_labels:
    ov.text(296, y, s, color=NAVY, rotation=90, ha='center', va='center', fontsize=LBL, ma='center', linespacing=1.15)
    ov.text(896, y, rs, color=NAVY, rotation=90, ha='center', va='center', fontsize=LBL, ma='center', linespacing=1.15)
ov.text(289, 601, 'pion. rozciągł. chm.', color=NAVY, rotation=90, ha='center', va='center', fontsize=7.5)
ov.text(303, 601, '(km)', color=NAVY, rotation=90, ha='center', va='center', fontsize=LBL)
ov.text(896, 601, '(km)\nwidzialność', color=NAVY, rotation=90, ha='center', va='center', fontsize=LBL, ma='center', linespacing=1.15)
ov.text(290, 654, 'e', color=NAVY, rotation=90, ha='center', va='center', fontsize=LBL)

# compass letters beside the wind arrows
t(289, 535, 'W', NAVY, ha='center', fs=9.5)
ov.text(301, 527, 'N', color=NAVY, rotation=90, ha='center', va='center', fontsize=8)
ov.text(299, 543, 'S', color=NAVY, rotation=90, ha='center', va='center', fontsize=8)
ov.text(305, 536, 'E', color=NAVY, rotation=90, ha='center', va='center', fontsize=8)
t(888, 536, 'W', NAVY, ha='center', fs=9.5)
t(898, 527, 'N', NAVY, ha='center', fs=8)
ov.text(897, 544, 'S', color=NAVY, rotation=90, ha='center', va='center', fontsize=8)
ov.text(903, 536, 'E', color=NAVY, rotation=90, ha='center', va='center', fontsize=8)

fig.savefig('out.png', dpi=100)
